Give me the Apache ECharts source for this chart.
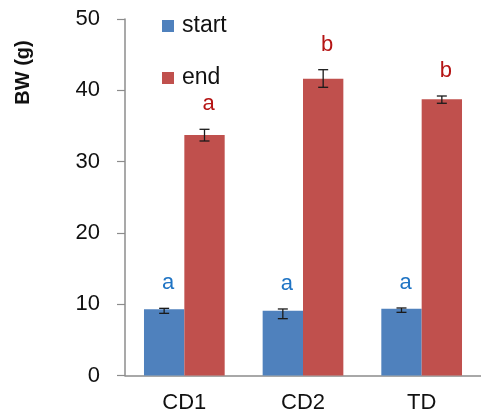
<!DOCTYPE html>
<html>
<head>
<meta charset="utf-8">
<script src="https://cdn.jsdelivr.net/npm/echarts@6/dist/echarts.min.js"></script>
<style>html,body{margin:0;padding:0;background:#fff;}#c{width:481px;height:415px;}</style>
</head>
<body>
<div id="c"></div>
<script>
var categories = ['CD1', 'CD2', 'TD'];
var startValues = [9.28, 9.09, 9.37];
var startLow = [8.72, 7.97, 8.86];
var startHigh = [9.42, 9.33, 9.47];
var startLetters = ['a', 'a', 'a'];
var endValues = [33.73, 41.63, 38.74];
var endLow = [32.89, 40.42, 38.18];
var endHigh = [34.53, 42.89, 39.2];
var endLetters = ['a', 'b', 'b'];
var yTicks = [0, 10, 20, 30, 40, 50];

var FONT = '"Liberation Sans", Arial, sans-serif';
var CAT_GAP = 0.32;

function errSeries(name, low, high, letters, side, letterColor) {
  return {
    type: 'custom',
    name: name + '-err',
    z: 10,
    silent: true,
    data: categories.map(function (c, i) { return [i, low[i], high[i], letters[i]]; }),
    renderItem: function (params, api) {
      var band = api.size([1, 0])[0];
      var barW = band * (1 - CAT_GAP) / 2;
      var cx = api.coord([api.value(0), 0])[0] + side * barW / 2;
      var yLo = api.coord([api.value(0), api.value(1)])[1];
      var yHi = api.coord([api.value(0), api.value(2)])[1];
      var cap = 5;
      var st = { stroke: '#1a1a1a', lineWidth: 1.3 };
      return {
        type: 'group',
        children: [
          { type: 'line', shape: { x1: cx, y1: yLo, x2: cx, y2: yHi }, style: st },
          { type: 'line', shape: { x1: cx - cap, y1: yHi, x2: cx + cap, y2: yHi }, style: st },
          { type: 'line', shape: { x1: cx - cap, y1: yLo, x2: cx + cap, y2: yLo }, style: st },
          { type: 'text', x: cx + 4, y: yHi - 25, style: {
              text: letters[params.dataIndex], fill: letterColor,
              font: '22px ' + FONT, textAlign: 'center', textVerticalAlign: 'middle'
          } }
        ]
      };
    }
  };
}

var chart = echarts.init(document.getElementById('c'));
chart.setOption({
  animation: false,
  backgroundColor: '#fff',
  textStyle: { fontFamily: FONT },
  grid: { left: 125, right: -4, top: 19, bottom: 39.5, containLabel: false },
  legend: {
    orient: 'vertical',
    left: 162, top: 14.5, padding: 0,
    itemWidth: 12, itemHeight: 12, itemGap: 29,
    icon: 'rect',
    data: ['start', 'end'],
    textStyle: { fontSize: 23, color: '#111', fontFamily: FONT, padding: [0, 0, 0, 3] }
  },
  graphic: [{
    type: 'text', x: 23, y: 72.5, rotation: Math.PI / 2,
    style: { text: 'BW (g)', font: 'bold 20px ' + FONT, fill: '#111', textAlign: 'center', textVerticalAlign: 'middle' }
  }],
  xAxis: {
    type: 'category',
    data: categories,
    axisLine: { lineStyle: { color: '#8c8c8c', width: 1.5 } },
    axisTick: { show: false },
    axisLabel: { fontSize: 22, color: '#111', margin: 16, fontFamily: FONT }
  },
  yAxis: {
    type: 'value',
    min: yTicks[0], max: yTicks[yTicks.length - 1], interval: 10,
    axisLine: { show: true, lineStyle: { color: '#8c8c8c', width: 1.5 } },
    axisTick: { show: true, inside: false, length: 8, lineStyle: { color: '#8c8c8c', width: 1.2 } },
    splitLine: { show: false },
    axisLabel: { fontSize: 22, color: '#111', margin: 25, fontFamily: FONT }
  },
  series: [
    { name: 'start', type: 'bar', data: startValues, barGap: '0%', barCategoryGap: '32%', itemStyle: { color: '#4F81BD' } },
    { name: 'end', type: 'bar', data: endValues, barGap: '0%', barCategoryGap: '32%', itemStyle: { color: '#C0504D' } },
    errSeries('start', startLow, startHigh, startLetters, -1, '#1F74C4'),
    errSeries('end', endLow, endHigh, endLetters, 1, '#B51414')
  ]
});
</script>
</body>
</html>
